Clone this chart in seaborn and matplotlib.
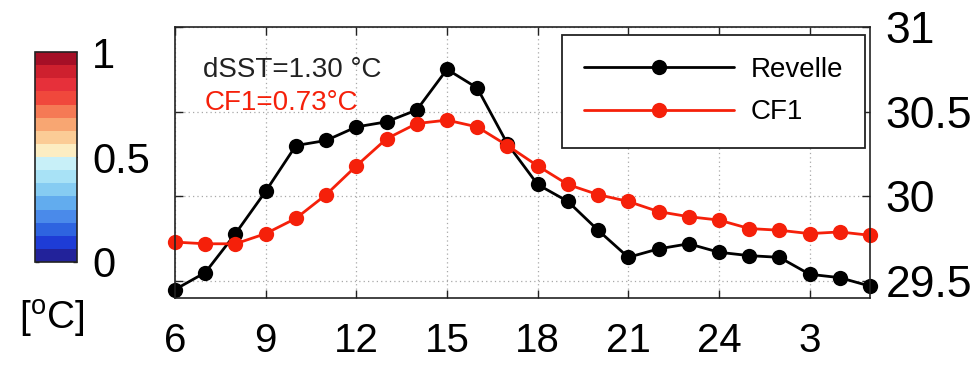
import numpy as np
import pandas as pd
import matplotlib
matplotlib.use("Agg")
import matplotlib.pyplot as plt
from matplotlib.colors import ListedColormap, Normalize
from matplotlib.cm import ScalarMappable
import seaborn as sns

# Local hour of day (6 am through 5 am next day)
hours = list(range(6, 30))
xtick_pos = [6, 9, 12, 15, 18, 21, 24, 27]
xtick_labels = ["6", "9", "12", "15", "18", "21", "24", "3"]

# Composite diurnal SST (deg C)
revelle = [29.45, 29.55, 29.78, 30.03, 30.30, 30.33, 30.41, 30.44, 30.51, 30.75,
           30.64, 30.31, 30.07, 29.97, 29.80, 29.64, 29.69, 29.72, 29.67, 29.65,
           29.64, 29.54, 29.52, 29.47]
cf1 = [29.73, 29.72, 29.72, 29.78, 29.87, 30.01, 30.18, 30.34, 30.43, 30.45,
       30.41, 30.30, 30.18, 30.07, 30.01, 29.97, 29.91, 29.88, 29.86, 29.81,
       29.80, 29.78, 29.79, 29.77]
series_names = ["Revelle", "CF1"]
series_colors = ["#000000", "#F5200A"]

ytick_pos = [29.5, 30, 30.5, 31]
ytick_labels = ["29.5", "30", "30.5", "31"]

# Diurnal amplitude colour scale
cbar_colors = ["#22229A", "#1E3CD6", "#2E64E0", "#4A8AEA", "#62ACEE", "#86CCF2",
               "#A8E2F6", "#C8F0F8", "#FCEDC2", "#FBCC96", "#F8A672", "#F57A55",
               "#F0483C", "#E6303A", "#CE202E", "#A50F26"]
cbar_ticks = [0, 0.5, 1]
cbar_ticklabels = ["0", "0.5", "1"]

df = pd.DataFrame({
    "hour": hours * 2,
    "sst": revelle + cf1,
    "source": [series_names[0]] * len(hours) + [series_names[1]] * len(hours),
})

sns.set_theme(style="white")
plt.rcParams["font.family"] = ["Liberation Sans", "DejaVu Sans"]
plt.rcParams["mathtext.fontset"] = "custom"
plt.rcParams["mathtext.rm"] = "Liberation Sans"
plt.rcParams["mathtext.it"] = "Liberation Sans:italic"
plt.rcParams["text.color"] = "black"
plt.rcParams["xtick.color"] = "black"
plt.rcParams["ytick.color"] = "black"

fig = plt.figure(figsize=(9.79, 3.65), dpi=100)
ax = fig.add_axes([0.1788, 0.1836, 0.7099, 0.7425])

sns.lineplot(data=df, x="hour", y="sst", hue="source", palette=series_colors,
             marker="o", markersize=11, markeredgewidth=0, linewidth=2.0,
             ax=ax, clip_on=False)

ax.set_xlim(6, 29)
ax.set_ylim(29.4, 31)
ax.set_xticks(xtick_pos)
ax.set_xticklabels(xtick_labels)
ax.set_yticks(ytick_pos)
ax.set_yticklabels(ytick_labels)
ax.set_xlabel("")
ax.set_ylabel("")

ax.grid(True, linestyle=(0, (1, 2.5)), color="#a8a8a8", linewidth=0.9)
ax.set_axisbelow(True)
for s in ax.spines.values():
    s.set_visible(True)
    s.set_color("#222222")
    s.set_linewidth(1.2)

ax.tick_params(axis="both", direction="in", length=6, width=1.0, color="#222222",
               labelcolor="black", top=True, bottom=True, left=True, right=True,
               labelleft=False, labelright=True)
ax.tick_params(axis="x", pad=17, labelsize=29)
ax.tick_params(axis="y", pad=11, labelsize=32)

ax.text(0.04, 0.84, "dSST=1.30 °C", transform=ax.transAxes, fontsize=20,
        color="#222222", ha="left", va="center")
ax.text(0.043, 0.72, "CF1=0.73°C", transform=ax.transAxes, fontsize=20,
        color=series_colors[1], ha="left", va="center")

handles, labels = ax.get_legend_handles_labels()
leg = ax.legend(handles, labels, loc="upper right", bbox_to_anchor=(0.993, 0.972),
                fontsize=20, handlelength=5.4, handletextpad=0.6,
                labelspacing=0.6, borderpad=0.8, borderaxespad=0,
                frameon=True, fancybox=False, framealpha=1, edgecolor="#222222")
leg.get_frame().set_linewidth(1.3)

# Colour bar on the left
cax = fig.add_axes([0.0358, 0.2822, 0.0429, 0.5753])
cmap = ListedColormap(cbar_colors)
sm = ScalarMappable(norm=Normalize(0, 1), cmap=cmap)
cb = fig.colorbar(sm, cax=cax, ticks=cbar_ticks)
cb.ax.set_yticklabels(cbar_ticklabels)
cb.outline.set_edgecolor("#222222")
cb.outline.set_linewidth(1.2)
cb.ax.tick_params(direction="in", length=3, width=1.0, color="#222222",
                  labelcolor="black", left=True, right=True, labelsize=30, pad=11)

fig.text(0.053, 0.125, "[$^{\\rm o}$C]", fontsize=28, ha="center", va="center")

fig.savefig("out.png", dpi=100)
